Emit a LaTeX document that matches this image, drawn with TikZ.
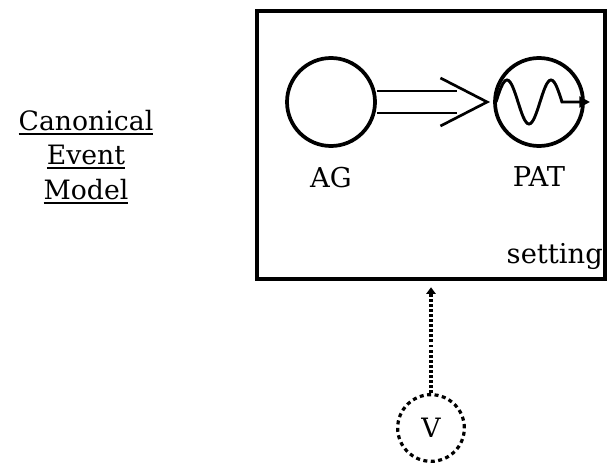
\documentclass[tikz,border=0pt]{standalone}
\usepackage{fontspec}
\setmainfont{DejaVu Serif}
\usetikzlibrary{arrows.meta,positioning}

% underline with a heavier rule
\newcommand{\heavyul}[1]{\setbox0\hbox{#1}\vtop{\copy0\kern1.6pt\hrule height 1.5pt width \wd0}}

\tikzset{
  role/.style={circle, draw, line width=2.8pt, minimum size=66pt, inner sep=0pt},
  rolelabel/.style={inner sep=0pt, font=\fontsize{20.5}{22}\selectfont},
  shaft/.style={line width=2pt},
  viewer/.style={circle, draw, line width=2.4pt, dash pattern=on 3pt off 2.6pt,
                 minimum size=50pt, inner sep=0pt, font=\fontsize{20}{22}\selectfont},
  viewline/.style={line width=2.8pt, dash pattern=on 2.2pt off 1.6pt}
}

\begin{document}
\begin{tikzpicture}[x=0.75pt, y=-0.75pt]
    \useasboundingbox (0,0) rectangle (609,463);

    % title at the left
    \node[align=center, font=\fontsize{20}{26}\selectfont] (title) at (86,157)
      {\heavyul{Canonical}\\ \heavyul{Event}\\ \heavyul{Model}};

    % the setting
    \node[draw, line width=2.4pt, minimum width=261pt, minimum height=201pt,
          inner sep=0pt] (setbox) at (431,145) {};
    \node[rolelabel, anchor=base east] (setlabel) at (603,263) {setting};

    % participants
    \node[role] (AG) at (331,102) {};
    \node[role] (PAT) at (539,102) {};
    \node[rolelabel, below=14pt of AG] (AGlabel) {AG};
    \node[rolelabel, below=14pt of PAT] (PATlabel) {PAT};

    % double-line arrow from AG to PAT
    \coordinate (tip) at ([xshift=-4.5pt]PAT.west);
    \draw[shaft] ([yshift=8.2pt]AG.east) -- ++(60pt,0);
    \draw[shaft] ([yshift=-8.2pt]AG.east) -- ++(60pt,0);
    \draw[shaft] ([shift={(-35pt,18pt)}]tip) -- (tip) -- ([shift={(-35pt,-18pt)}]tip);

    % wave inside PAT
    \draw[shaft, line width=2.2pt, -{Triangle[length=8pt, width=8pt]}, shift={(PAT.center)}]
      (-43,0) sin (-32,-22) cos (-21,0) sin (-10,22) cos (1,0) sin (12,-22) cos (23,0)
      -- (51,0);

    % viewer
    \node[viewer] (V) at (431,428) {V};
    \draw[viewline, -{Triangle[length=5pt, width=7pt]}] (V.north) -- ([yshift=-5pt]setbox.south);
\end{tikzpicture}
\end{document}
